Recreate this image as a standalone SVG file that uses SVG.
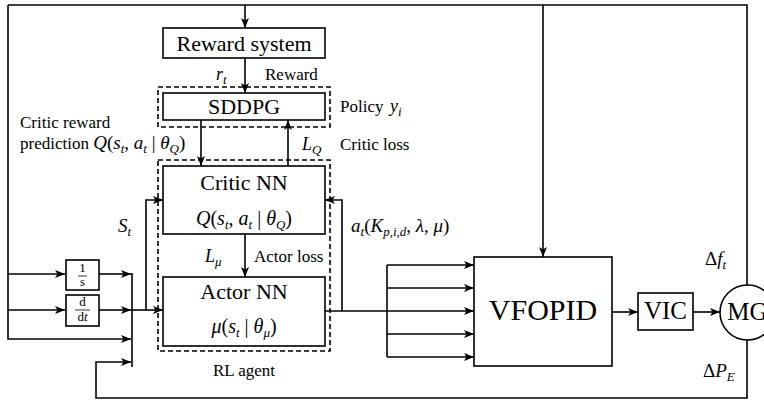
<svg xmlns="http://www.w3.org/2000/svg" width="764" height="400" viewBox="0 0 764 400">
  <defs>
    <marker id="arr" markerUnits="userSpaceOnUse" markerWidth="12" markerHeight="10" refX="10" refY="4" orient="auto">
      <path d="M0,0 L10,4 L0,8 L2.5,4 z" fill="#000"/>
    </marker>
  </defs>
  <style>
    .ln { fill: none; stroke: #000; stroke-width: 1.6; }
    .ar { fill: none; stroke: #000; stroke-width: 1.6; marker-end: url(#arr); }
    .box { fill: #fff; stroke: #000; stroke-width: 1.6; }
    .dash { fill: none; stroke: #000; stroke-width: 1.6; stroke-dasharray: 5 3; }
    text { font-family: "Liberation Serif", "Times New Roman", serif; fill: #000; }
    .big { font-size: 22px; text-anchor: middle; }
    .sm { font-size: 17px; }
    .m { font-style: italic; }
    .sub { font-size: 13px; }
  </style>

  <!-- connectors -->
  <g id="connectors">
    <!-- outer feedback frame -->
    <path class="ln" d="M8,5 H747 V285"/>
    <path class="ar" d="M8,5 V339 H131"/>
    <path class="ar" d="M245,5 V28"/>
    <path class="ar" d="M543,5 V257"/>
    <path class="ar" d="M747,340 V398 H96 V362 H131"/>
    <!-- state inputs -->
    <path class="ar" d="M8,274 H65"/>
    <path class="ar" d="M8,310 H65"/>
    <path class="ar" d="M99,274 H131"/>
    <path class="ar" d="M99,310 H131"/>
    <path class="ln" d="M132,273 V367"/>
    <path class="ar" d="M132,310 H163"/>
    <path class="ar" d="M146,310 V200 H163"/>
    <!-- agent internals -->
    <path class="ar" d="M245,58 V93"/>
    <path class="ar" d="M201,120 V166"/>
    <path class="ar" d="M288,166 V120"/>
    <path class="ar" d="M245,234 V277"/>
    <!-- action output -->
    <path class="ln" d="M325,311 H387"/>
    <path class="ar" d="M342,311 V200 H325"/>
    <path class="ln" d="M387,265 V357"/>
    <path class="ar" d="M387,265 H474"/>
    <path class="ar" d="M387,288 H474"/>
    <path class="ar" d="M387,311 H474"/>
    <path class="ar" d="M387,334 H474"/>
    <path class="ar" d="M387,357 H474"/>
    <!-- plant chain -->
    <path class="ar" d="M612,312 H638"/>
    <path class="ar" d="M693,312 H720"/>
  </g>

  <!-- dashed groupings -->
  <g id="sddpg-frame">
    <rect class="dash" x="158" y="87" width="172" height="40"/>
  </g>
  <g id="rl-agent">
    <rect class="dash" x="158" y="160" width="172" height="191"/>
    <text class="sm" x="244" y="376" text-anchor="middle">RL agent</text>
  </g>

  <g id="reward-system">
    <rect class="box" x="163" y="28" width="162" height="30"/>
    <text class="big" x="244" y="51">Reward system</text>
  </g>

  <g id="sddpg">
    <rect class="box" x="163" y="93" width="162" height="27"/>
    <text class="big" x="244" y="114">SDDPG</text>
  </g>

  <g id="critic-nn">
    <rect class="box" x="163" y="166" width="162" height="68"/>
    <text class="big" x="244" y="190">Critic NN</text>
    <text x="244" y="225" font-size="20" text-anchor="middle"><tspan class="m">Q</tspan>(<tspan class="m">s</tspan><tspan class="m sub" dy="4">t</tspan><tspan dy="-4">, </tspan><tspan class="m">a</tspan><tspan class="m sub" dy="4">t</tspan><tspan dy="-4"> | </tspan><tspan class="m">θ</tspan><tspan class="m sub" dy="4">Q</tspan><tspan dy="-4">)</tspan></text>
  </g>

  <g id="actor-nn">
    <rect class="box" x="163" y="277" width="162" height="69"/>
    <text class="big" x="244" y="299">Actor NN</text>
    <text x="244" y="333" font-size="20" text-anchor="middle"><tspan class="m">μ</tspan>(<tspan class="m">s</tspan><tspan class="m sub" dy="4">t</tspan><tspan dy="-4"> | </tspan><tspan class="m">θ</tspan><tspan class="m sub" dy="4">μ</tspan><tspan dy="-4">)</tspan></text>
  </g>

  <g id="integrator">
    <rect class="box" x="66" y="260" width="33" height="30"/>
    <text x="82.5" y="272" font-size="13" text-anchor="middle">1</text>
    <line x1="78" y1="276" x2="87" y2="276" stroke="#000" stroke-width="0.8"/>
    <text x="82.5" y="286" font-size="13" text-anchor="middle">s</text>
  </g>

  <g id="differentiator">
    <rect class="box" x="66" y="295" width="33" height="31"/>
    <text x="82.5" y="306" font-size="13" text-anchor="middle">d</text>
    <line x1="75" y1="310" x2="90" y2="310" stroke="#000" stroke-width="0.8"/>
    <text x="82.5" y="321" font-size="13" text-anchor="middle">d<tspan class="m">t</tspan></text>
  </g>

  <g id="vfopid">
    <rect class="box" x="474" y="257" width="138" height="109"/>
    <text x="543" y="320" font-size="30" text-anchor="middle">VFOPID</text>
  </g>

  <g id="vic">
    <rect class="box" x="638" y="293" width="55" height="37"/>
    <text x="665.5" y="319" font-size="25" text-anchor="middle">VIC</text>
  </g>

  <g id="mg">
    <circle class="box" cx="747.5" cy="312.5" r="27.5"/>
    <text x="747.5" y="320" font-size="25" text-anchor="middle">MG</text>
  </g>

  <!-- edge labels -->
  <g id="labels">
    <text x="216" y="80" font-size="18"><tspan class="m">r</tspan><tspan class="m sub" dy="4">t</tspan></text>
    <text class="sm" x="265" y="80">Reward</text>
    <text class="sm" x="340" y="112">Policy</text>
    <text x="390" y="112" font-size="18" class="m">y<tspan class="sub" dy="4">i</tspan></text>
    <text class="sm" x="20" y="128">Critic reward</text>
    <text class="sm" x="20" y="149">prediction <tspan font-size="19" class="m">Q</tspan><tspan font-size="19">(</tspan><tspan font-size="19" class="m">s</tspan><tspan class="m sub" dy="4">t</tspan><tspan font-size="19" dy="-4">, </tspan><tspan font-size="19" class="m">a</tspan><tspan class="m sub" dy="4">t</tspan><tspan font-size="19" dy="-4"> | </tspan><tspan font-size="19" class="m">θ</tspan><tspan class="m sub" dy="4">Q</tspan><tspan font-size="19" dy="-4">)</tspan></text>
    <text x="302" y="150" font-size="18"><tspan class="m">L</tspan><tspan class="m sub" dy="4">Q</tspan></text>
    <text class="sm" x="340" y="150">Critic loss</text>
    <text x="118" y="232" font-size="19"><tspan class="m">S</tspan><tspan class="m sub" dy="4">t</tspan></text>
    <text x="205" y="262" font-size="18"><tspan class="m">L</tspan><tspan class="m sub" dy="4">μ</tspan></text>
    <text class="sm" x="254" y="262">Actor loss</text>
    <text x="351" y="232" font-size="19"><tspan class="m">a</tspan><tspan class="m sub" dy="4">t</tspan><tspan dy="-4">(</tspan><tspan class="m">K</tspan><tspan class="m sub" dy="4">p,i,d</tspan><tspan dy="-4">, </tspan><tspan class="m">λ</tspan>, <tspan class="m">μ</tspan>)</text>
    <text x="705" y="265" font-size="19">Δ<tspan class="m">f</tspan><tspan class="m sub" dy="4">t</tspan></text>
    <text x="703" y="377" font-size="19">Δ<tspan class="m">P</tspan><tspan class="m sub" dy="4">E</tspan></text>
  </g>
</svg>
